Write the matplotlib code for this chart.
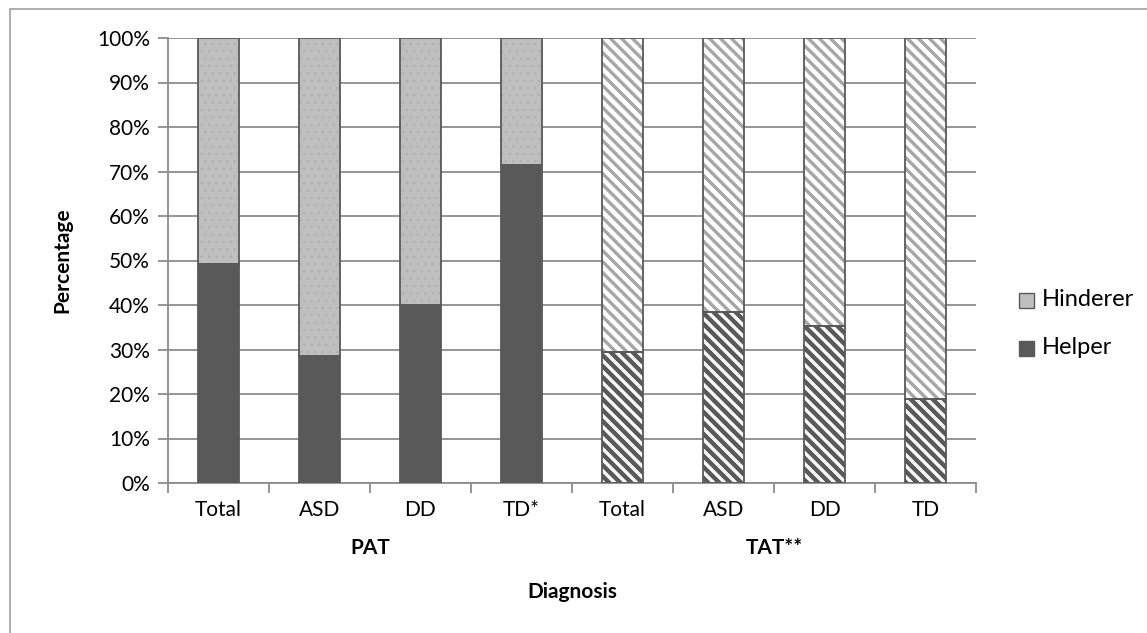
import numpy as np
import matplotlib as mpl
import matplotlib.pyplot as plt
from matplotlib.patches import Rectangle

plt.rcParams['font.family'] = ['Lato', 'DejaVu Sans']

categories = ["Total", "ASD", "DD", "TD*", "Total", "ASD", "DD", "TD"]
groups = ["PAT", "TAT**"]
helper = [49.2, 28.6, 40.0, 71.4, 29.4, 38.5, 35.3, 18.8]
hinderer = [100 - h for h in helper]
is_tat = [False] * 4 + [True] * 4
legend_labels = ["Hinderer", "Helper"]

DARK = "#595959"
LIGHT = "#bfbfbf"
GRID = "#8c8c8c"

# dpi chosen so the hatch spacing matches the reference
DPI = 132
K = 100 / DPI
FS = 15 * K
LW = 1.3 * K


def hatched_bar(ax, x, h, w, bottom, face, hcolor, hatch, hlw):
    with mpl.rc_context({"hatch.linewidth": hlw}):
        bars = ax.bar(x, h, w, bottom=bottom, color=face, edgecolor=hcolor,
                      hatch=hatch, linewidth=0, zorder=2)
    for b in bars:
        if hasattr(b, "set_hatch_linewidth"):
            b.set_hatch_linewidth(hlw)


def main():
    W, H = 1147, 633
    fig = plt.figure(figsize=(W / DPI, H / DPI), dpi=DPI)
    ax = fig.add_axes([168 / W, (H - 483) / H, (976 - 168) / W, (483 - 38) / H])

    x = np.arange(len(categories))
    bw = 0.4
    for i in x:
        if is_tat[i]:
            hatched_bar(ax, i, helper[i], bw, 0, DARK, "white", "\\\\\\\\", 2.4 * K)
            hatched_bar(ax, i, hinderer[i], bw, helper[i], "white", "#a6a6a6",
                        "\\\\\\\\", 2.4 * K)
        else:
            ax.bar(i, helper[i], bw, color=DARK, linewidth=0, zorder=2)
            hatched_bar(ax, i, hinderer[i], bw, helper[i], LIGHT, "#adadad", "...", 0.5 * K)
        # outlines
        ax.bar(i, helper[i], bw, fill=False, edgecolor=DARK, linewidth=LW, zorder=3)
        ax.bar(i, hinderer[i], bw, bottom=helper[i], fill=False,
               edgecolor=DARK, linewidth=LW, zorder=3)

    ax.set_xlim(-0.5, len(categories) - 0.5)
    ax.set_ylim(0, 100)
    ax.set_yticks(np.arange(0, 101, 10))
    ax.set_yticklabels([f"{v}%" for v in range(0, 101, 10)], fontsize=FS)
    ax.yaxis.grid(True, color=GRID, linewidth=LW, zorder=0)
    ax.set_axisbelow(True)

    ax.set_xticks(np.arange(-0.5, len(categories), 1))
    ax.set_xticklabels([])
    ax.set_xticks(x, minor=True)
    ax.set_xticklabels(categories, minor=True, fontsize=FS)
    ax.tick_params(axis="x", which="minor", length=0, pad=12 * K)
    ax.tick_params(axis="x", which="major", length=7 * K, color=GRID, width=LW)
    ax.tick_params(axis="y", length=7 * K, color=GRID, width=LW, pad=6 * K)

    for s in ["top", "right"]:
        ax.spines[s].set_visible(False)
    for s in ["left", "bottom"]:
        ax.spines[s].set_color(GRID)
        ax.spines[s].set_linewidth(LW)

    for gi, g in enumerate(groups):
        ax.text(gi * 4 + 1.5, -14.5, g, ha="center", va="center",
                fontsize=FS, fontweight="bold")
    ax.text(3.5, -24.4, "Diagnosis", ha="center", va="center",
            fontsize=FS, fontweight="bold")
    fig.text(62 / W, (H - 260) / H, "Percentage", rotation=90, ha="center",
             va="center", fontsize=FS, fontweight="bold")

    # legend drawn by hand at the reference position
    for j, (lab, fc) in enumerate(zip(legend_labels, [LIGHT, DARK])):
        cy = 300 + 48 * j
        fig.patches.append(Rectangle((1019 / W, (H - cy - 7.5) / H), 15 / W, 15 / H,
                                     transform=fig.transFigure, facecolor=fc,
                                     edgecolor=DARK, linewidth=1.0 * K))
        fig.text(1042 / W, (H - cy) / H, lab, ha="left", va="center", fontsize=17 * K)

    # chart border
    fig.patches.append(Rectangle((10 / W, -0.1), 1.2, (H - 9) / H + 0.1,
                                 transform=fig.transFigure, fill=False,
                                 edgecolor="#a0a0a0", linewidth=1.2 * K))

    fig.savefig("out.png", dpi=DPI)


if __name__ == "__main__":
    main()
